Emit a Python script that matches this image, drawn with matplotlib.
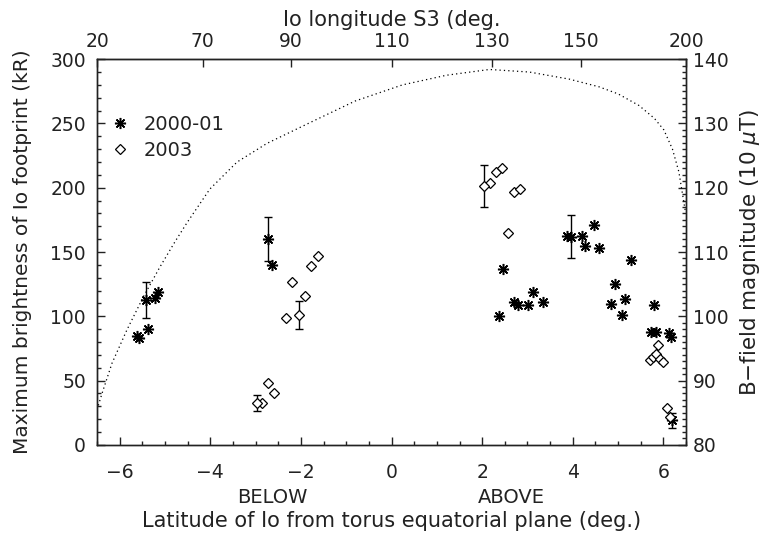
import matplotlib.pyplot as plt
from matplotlib.ticker import MultipleLocator

# 2000-01 observations (asterisks): latitude (deg), brightness (kR)
lat_2000 = [-5.62, -5.57, -5.37, -5.23, -5.16, -2.63,
            2.47, 2.38, 2.71, 2.80, 3.02, 3.13, 3.35, 3.88, 4.20, 4.27, 4.47, 4.58,
            5.29, 4.93, 4.85, 5.15, 5.08, 5.80, 5.73, 5.84, 6.12, 6.17]
kr_2000 = [85, 83, 90, 114.5, 119, 140,
           136.5, 100.5, 111, 108.5, 109, 119, 111, 162.7, 162.7, 155, 171, 153.5,
           143.5, 125, 109.5, 113.5, 101, 109, 87.5, 87.5, 87, 84]
# 2000-01 points with error bars
lat_2000_err = [-5.43, -2.72, 3.96, 6.20]
kr_2000_err = [112.5, 160, 162, 19]
err_2000 = [14, 17, 17, 6]

# 2003 observations (diamonds)
lat_2003 = [-2.86, -2.72, -2.60, -2.32, -2.19, -1.92, -1.78, -1.63,
            2.17, 2.31, 2.44, 2.71, 2.83, 2.58,
            5.70, 5.76, 5.83, 5.88, 5.93, 6.00, 6.07, 6.14]
kr_2003 = [32.5, 48, 40, 99, 126.5, 115.5, 139.5, 147,
           204, 212.5, 215.5, 197, 199, 165,
           66, 68, 71, 78, 67, 64.5, 28.5, 21.5]
lat_2003_err = [-2.98, -2.05, 2.03]
kr_2003_err = [32.5, 101, 201.5]
err_2003 = [6.5, 11, 16.5]

# B-field magnitude along the footprint path (right axis)
lat_b = [-6.50, -6.39, -6.17, -5.84, -5.48, -5.11, -4.78, -4.52, -4.01, -3.41,
         -2.75, -1.81, -0.80, 0.24, 1.21, 2.16, 3.04, 3.92, 4.58, 5.00, 5.46,
         5.80, 6.01, 6.20, 6.34, 6.48]
b_field = [85.5, 88.0, 92.7, 97.9, 103.0, 107.7, 111.6, 114.5, 119.8, 124.0,
           126.9, 130.1, 133.5, 136.0, 137.5, 138.4, 138.0, 136.9, 135.7, 134.6, 132.8,
           130.8, 129.0, 126.0, 122.5, 116.5]

# top axis: System III longitude at given latitudes
top_tick_lat = [-6.5, -4.17, -2.23, 0.0, 2.22, 4.18, 6.5]
top_tick_lab = ["20", "70", "90", "110", "130", "150", "200"]

INK = "#222222"
FS = 13.5

plt.rcParams["font.family"] = ["DejaVu Sans"]
plt.rcParams["text.color"] = INK
plt.rcParams["axes.labelcolor"] = INK
plt.rcParams["xtick.color"] = INK
plt.rcParams["ytick.color"] = INK

fig = plt.figure(figsize=(7.64, 5.38), dpi=100)
ax = fig.add_axes([0.127, 0.173, 0.771, 0.717])

star = dict(linestyle="none", marker=(8, 2, 0), ms=8, mew=1.1, color="black")
diam = dict(linestyle="none", marker="D", ms=5, mew=0.9, mfc="white", mec="black")
ebar = dict(fmt="none", ecolor="black", elinewidth=1, capsize=3, capthick=1)

ax.plot(lat_2000, kr_2000, label="2000-01", **star)
ax.errorbar(lat_2000_err, kr_2000_err, yerr=err_2000, **ebar)
ax.plot(lat_2000_err, kr_2000_err, **star)

ax.plot(lat_2003, kr_2003, label="2003", **diam)
ax.errorbar(lat_2003_err, kr_2003_err, yerr=err_2003, **ebar)
ax.plot(lat_2003_err, kr_2003_err, **diam)

ax.set_xlim(-6.5, 6.5)
ax.set_ylim(0, 300)
ax.xaxis.set_major_locator(MultipleLocator(2))
ax.xaxis.set_minor_locator(MultipleLocator(0.5))
ax.yaxis.set_major_locator(MultipleLocator(50))
ax.yaxis.set_minor_locator(MultipleLocator(10))
ax.tick_params(axis="both", which="both", direction="in", labelsize=FS)
ax.tick_params(axis="both", which="major", length=6, width=1)
ax.tick_params(axis="both", which="minor", length=3, width=1)
ax.tick_params(axis="x", pad=13)
ax.tick_params(axis="y", pad=8)
ax.set_ylabel("Maximum brightness of Io footprint (kR)", fontsize=14.5, labelpad=13)
ax.set_xlabel("Latitude of Io from torus equatorial plane (deg.)", fontsize=15)
ax.xaxis.set_label_coords(0.5, -0.17)
ax.text(-2.64, -0.135, "BELOW", transform=ax.get_xaxis_transform(),
        ha="center", va="center", fontsize=FS + 0.5)
ax.text(2.64, -0.135, "ABOVE", transform=ax.get_xaxis_transform(),
        ha="center", va="center", fontsize=FS + 0.5)

ax.legend(loc="upper left", bbox_to_anchor=(0.023, 0.856), frameon=False,
          numpoints=1, handlelength=1.0, handletextpad=0.7, borderpad=0,
          borderaxespad=0, labelspacing=0.35, fontsize=FS + 0.5)

axb = ax.twinx()
axb.plot(lat_b, b_field, linestyle=(0, (1, 2.5)), linewidth=0.9, color="black")
axb.set_ylim(80, 140)
axb.yaxis.set_major_locator(MultipleLocator(10))
axb.yaxis.set_minor_locator(MultipleLocator(1))
axb.tick_params(axis="y", which="both", direction="in", labelsize=FS, pad=5)
axb.tick_params(axis="y", which="major", length=6, width=1)
axb.tick_params(axis="y", which="minor", length=3, width=1)
axb.set_ylabel(r"B$-$field magnitude (10 $\mu$T)", fontsize=15.5, labelpad=7)

axt = ax.secondary_xaxis("top")
axt.set_xticks(top_tick_lat, labels=top_tick_lab)
axt.tick_params(axis="x", which="major", direction="in", length=6, width=1,
                labelsize=FS, pad=6)
axt.tick_params(axis="x", which="minor", length=0)
axt.set_xlabel("Io longitude S3 (deg.", fontsize=15, labelpad=4)

for a in (ax, axb):
    for sp in a.spines.values():
        sp.set_color(INK)
        sp.set_linewidth(1)
axt.spines["top"].set_color(INK)

fig.savefig("out.png", dpi=100)
